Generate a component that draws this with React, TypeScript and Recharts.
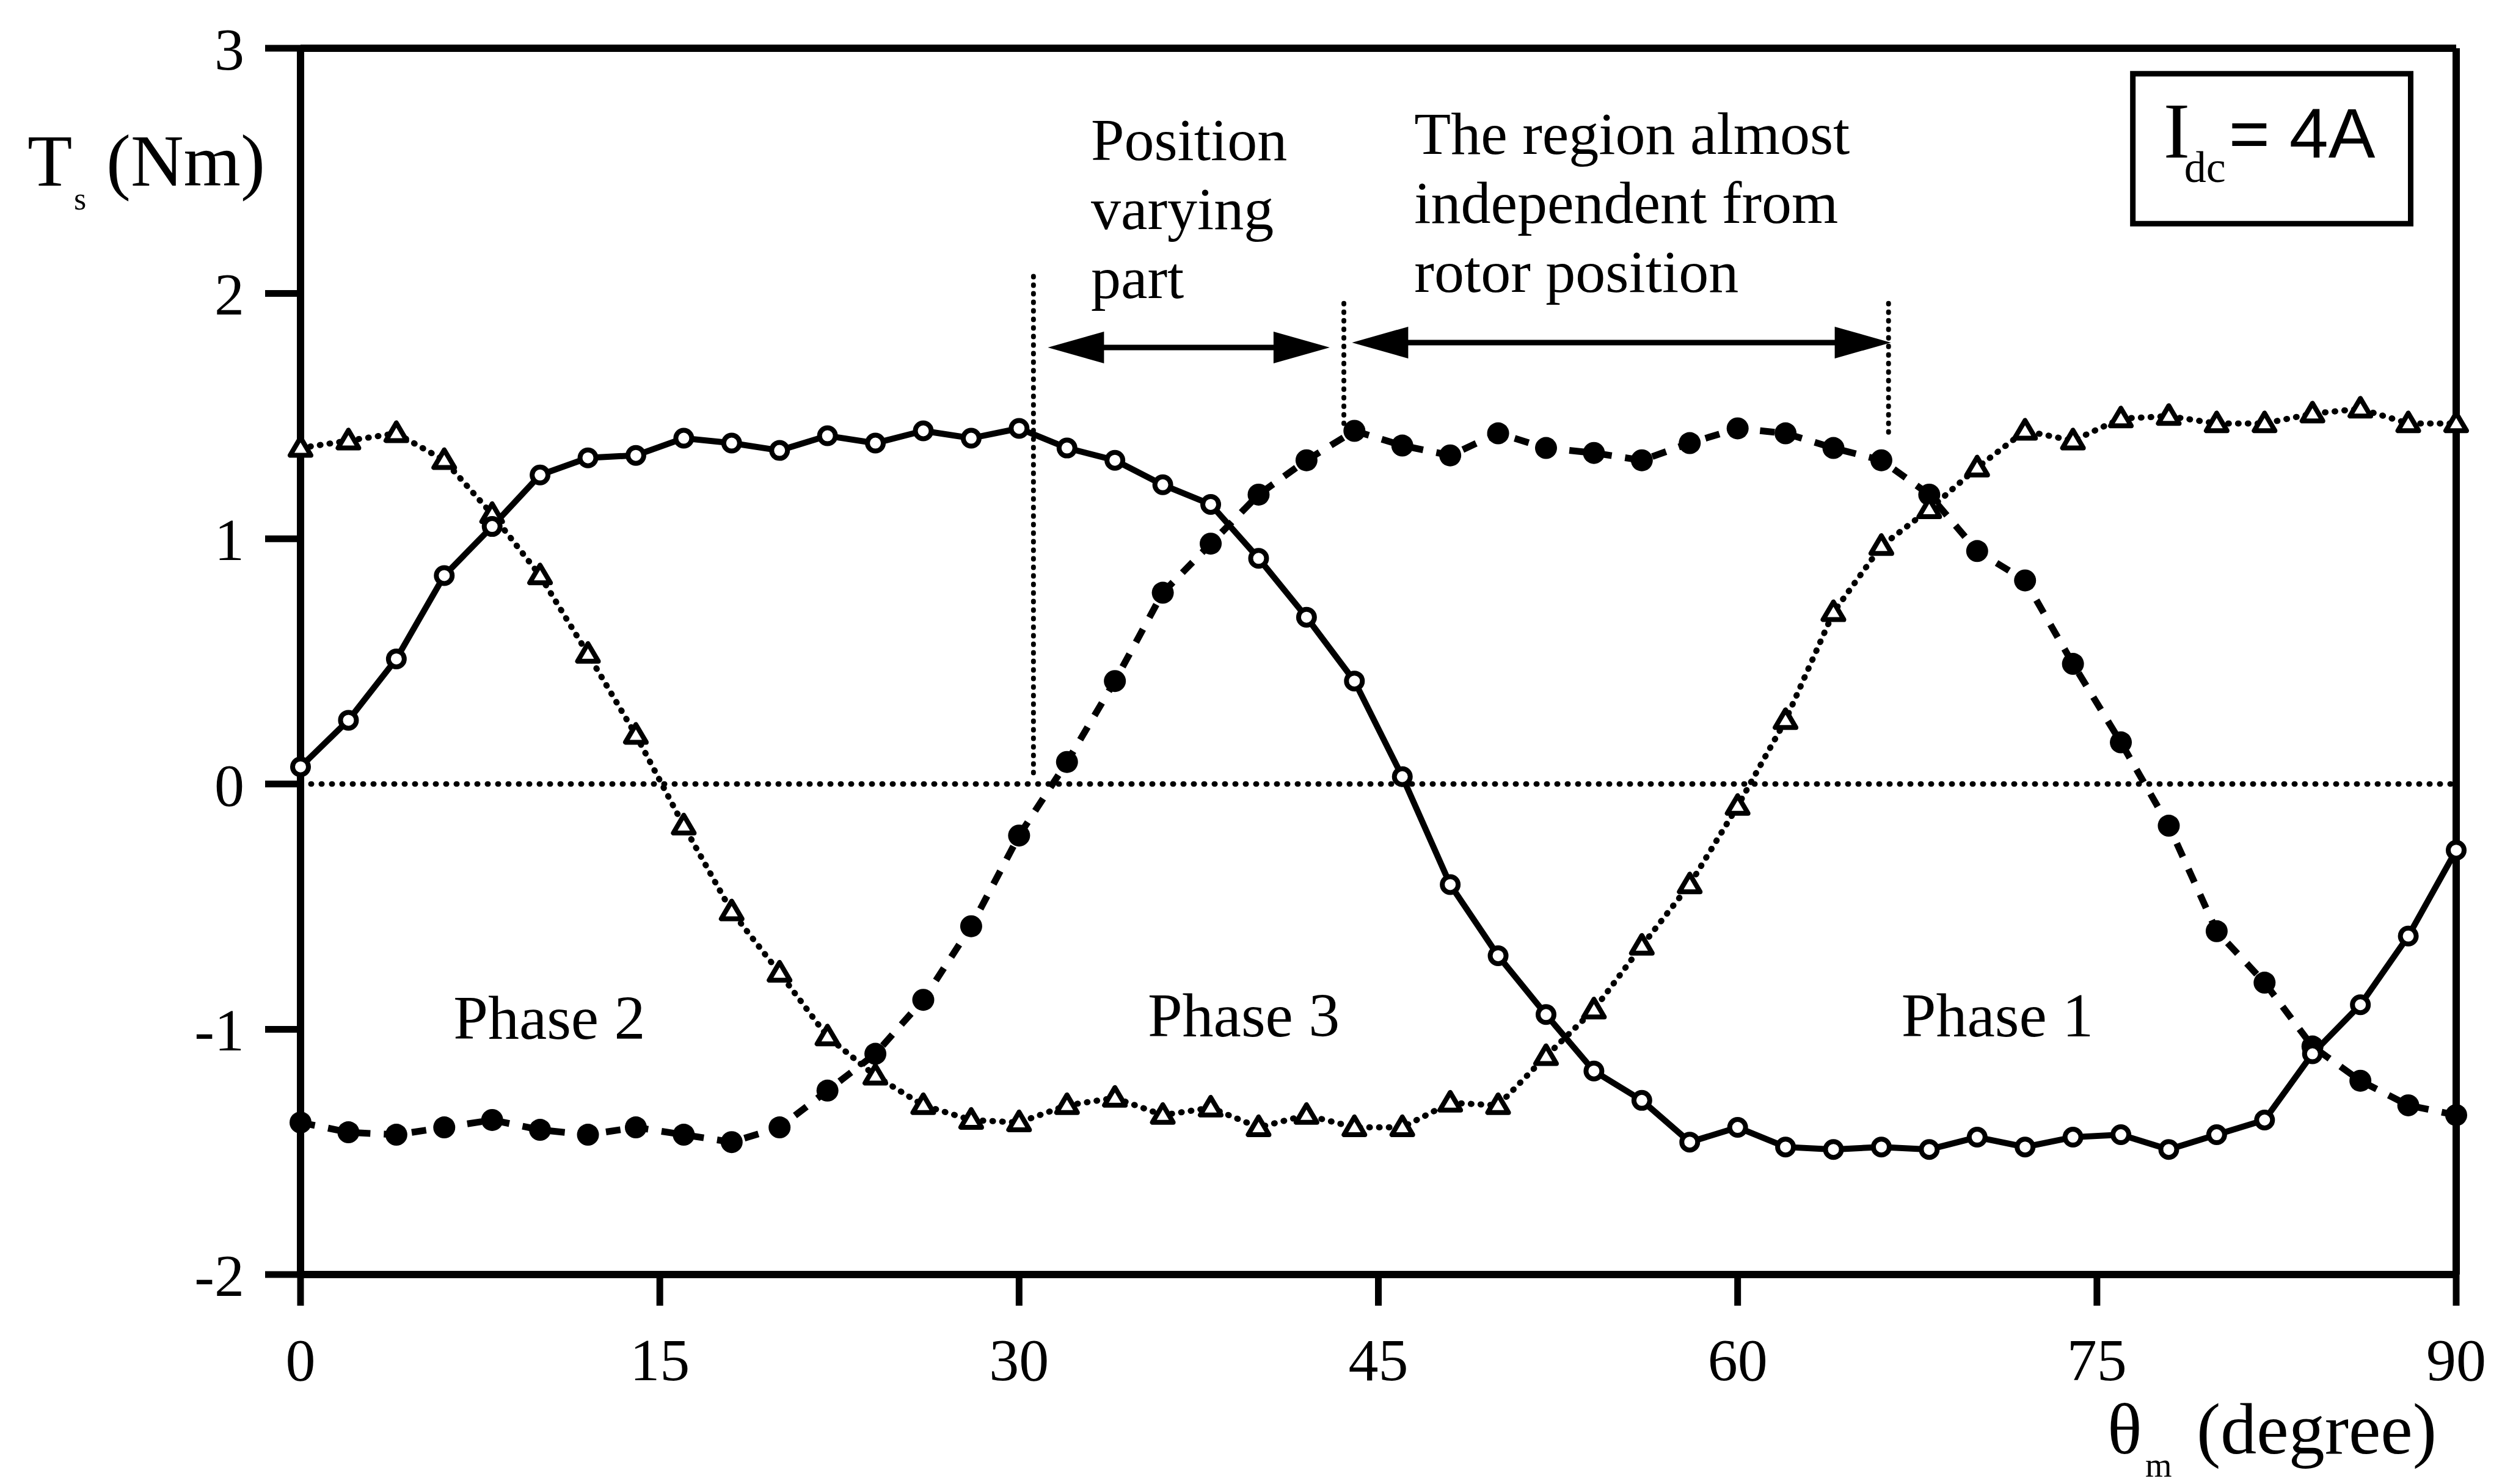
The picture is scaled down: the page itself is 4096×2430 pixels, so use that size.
import React from 'react';
import { ComposedChart, Line, XAxis, YAxis, ReferenceLine, ReferenceArea, ReferenceDot } from 'recharts';

// rotor angle (degree)
const theta = [
  0, 2, 4, 6, 8, 10, 12, 14, 16, 18, 20, 22, 24, 26, 28, 30, 32, 34, 36, 38, 40, 42, 44,
  46, 48, 50, 52, 54, 56, 58, 60, 62, 64, 66, 68, 70, 72, 74, 76, 78, 80, 82, 84, 86, 88, 90,
];

// open circles, solid line
const phase1Torque = [
  0.07, 0.26, 0.51, 0.85, 1.05, 1.26, 1.33, 1.34, 1.41, 1.39, 1.36, 1.42, 1.39, 1.44, 1.41, 1.45,
  1.37, 1.32, 1.22, 1.14, 0.92, 0.68, 0.42, 0.03, -0.41, -0.7, -0.94, -1.17, -1.29, -1.46, -1.4,
  -1.48, -1.49, -1.48, -1.49, -1.44, -1.48, -1.44, -1.43, -1.49, -1.43, -1.37, -1.1, -0.9, -0.62, -0.27,
];

// filled circles, dashed line
const phase2Torque = [
  -1.38, -1.42, -1.43, -1.4, -1.37, -1.41, -1.43, -1.4, -1.43, -1.46, -1.4, -1.25, -1.1, -0.88, -0.58,
  -0.21, 0.09, 0.42, 0.78, 0.98, 1.18, 1.32, 1.44, 1.38, 1.34, 1.43, 1.37, 1.35, 1.32, 1.39, 1.45,
  1.43, 1.37, 1.32, 1.18, 0.95, 0.83, 0.49, 0.17, -0.17, -0.6, -0.81, -1.07, -1.21, -1.31, -1.35,
];

// triangles, dotted line
const phase3Torque = [
  1.37, 1.4, 1.43, 1.32, 1.1, 0.85, 0.53, 0.2, -0.17, -0.52, -0.77, -1.03, -1.19, -1.31, -1.37,
  -1.38, -1.31, -1.28, -1.35, -1.32, -1.4, -1.35, -1.4, -1.4, -1.3, -1.31, -1.11, -0.92, -0.66, -0.41,
  -0.09, 0.26, 0.7, 0.97, 1.12, 1.29, 1.44, 1.4, 1.49, 1.5, 1.47, 1.47, 1.51, 1.53, 1.47, 1.47,
];

const xTicks = [0, 15, 30, 45, 60, 75, 90];
const yTicks = [-2, -1, 0, 1, 2, 3];

const rows = theta.map((t, i) => ({
  theta: t,
  phase1: phase1Torque[i],
  phase2: phase2Torque[i],
  phase3: phase3Torque[i],
}));

const SERIF = '"Liberation Serif", "Times New Roman", serif';
const SANS = '"Liberation Sans", Arial, sans-serif';

const OpenCircle = (props: any) => {
  const { cx, cy, index } = props;
  if (cx == null || cy == null) return null;
  return <circle key={`o-${index}`} cx={cx} cy={cy} r={13} fill="#fff" stroke="#000" strokeWidth={8} />;
};

const FilledCircle = (props: any) => {
  const { cx, cy, index } = props;
  if (cx == null || cy == null) return null;
  return <circle key={`f-${index}`} cx={cx} cy={cy} r={18} fill="#000" />;
};

const Triangle = (props: any) => {
  const { cx, cy, index } = props;
  if (cx == null || cy == null) return null;
  const s = 17;
  return (
    <polygon
      key={`t-${index}`}
      points={`${cx},${cy - s} ${cx - s},${cy + s * 0.7} ${cx + s},${cy + s * 0.7}`}
      fill="#fff"
      stroke="#000"
      strokeWidth={8}
      strokeLinejoin="round"
    />
  );
};

// double headed arrow drawn along a reference segment
const DoubleArrow = (props: any) => {
  const { x1, y1, x2, y2 } = props;
  const len = 92;
  const half = 26;
  return (
    <g>
      <line x1={x1 + 40} y1={y1} x2={x2 - 40} y2={y2} stroke="#000" strokeWidth={9} />
      <polygon points={`${x1},${y1} ${x1 + len},${y1 - half} ${x1 + len},${y1 + half}`} fill="#000" />
      <polygon points={`${x2},${y2} ${x2 - len},${y2 - half} ${x2 - len},${y2 + half}`} fill="#000" />
    </g>
  );
};

const textBlock = (lines: string[], anchor: 'start' | 'middle', size: number, gap: number) => (props: any) => {
  const { cx, cy } = props;
  return (
    <text fontFamily={SERIF} fontSize={size} fill="#000" textAnchor={anchor}>
      {lines.map((l, i) => (
        <tspan key={l} x={cx} y={cy + i * gap}>
          {l}
        </tspan>
      ))}
    </text>
  );
};

const CurrentLabel = (props: any) => {
  const { cx, cy } = props;
  return (
    <g fill="#000">
      <text x={cx + 50} y={cy + 137} fontFamily={SERIF} fontSize={130}>I</text>
      <text x={cx + 84} y={cy + 177} fontFamily={SERIF} fontSize={72}>dc</text>
      <text x={cx + 157} y={cy + 137} fontFamily={SANS} fontSize={115}>= 4A</text>
    </g>
  );
};

const YTitle = () => (
  <text fontFamily={SERIF} fontSize={120} fill="#000">
    <tspan x={45} y={304}>T</tspan>
    <tspan x={121} y={343} fontSize={52}>s</tspan>
    <tspan x={174} y={304}>(Nm)</tspan>
  </text>
);

const XTitle = () => (
  <text fontFamily={SERIF} fontSize={118} fill="#000">
    <tspan x={3450} y={2380}>θ</tspan>
    <tspan x={3512} y={2418} fontSize={56}>m</tspan>
    <tspan x={3596} y={2380}>(degree)</tspan>
  </text>
);

const tickStyle = { fontFamily: SERIF, fontSize: 98, fill: '#000' };

export default function App() {
  return (
    <div style={{ position: 'absolute', left: 0, top: 0, width: 4096, height: 2430, background: '#fff' }}>
      <ComposedChart width={4096} height={2430} data={rows} margin={{ top: 79, right: 75, bottom: 223, left: 0 }}>
        <XAxis
          dataKey="theta"
          type="number"
          domain={[0, 90]}
          ticks={xTicks}
          height={120}
          tick={tickStyle}
          tickSize={51}
          tickMargin={52}
          axisLine={{ stroke: '#000', strokeWidth: 12 }}
          tickLine={{ stroke: '#000', strokeWidth: 11 }}
          label={{ content: XTitle }}
        />
        <YAxis
          type="number"
          domain={[-2, 3]}
          ticks={yTicks}
          width={492}
          tick={tickStyle}
          tickSize={58}
          tickMargin={34}
          axisLine={{ stroke: '#000', strokeWidth: 12 }}
          tickLine={{ stroke: '#000', strokeWidth: 11 }}
          label={{ content: YTitle }}
        />

        {/* frame top / right */}
        <ReferenceLine y={3} stroke="#000" strokeWidth={12} />
        <ReferenceLine x={90} stroke="#000" strokeWidth={12} />

        {/* zero line */}
        <ReferenceLine y={0} stroke="#000" strokeWidth={9} strokeDasharray="1 16" strokeLinecap="round" />

        {/* region markers */}
        <ReferenceLine segment={[{ x: 30.6, y: 2.07 }, { x: 30.6, y: 0.03 }]} stroke="#000" strokeWidth={8} strokeDasharray="1 13" strokeLinecap="round" />
        <ReferenceLine segment={[{ x: 43.56, y: 1.96 }, { x: 43.56, y: 1.47 }]} stroke="#000" strokeWidth={8} strokeDasharray="1 13" strokeLinecap="round" />
        <ReferenceLine segment={[{ x: 66.3, y: 1.96 }, { x: 66.3, y: 1.42 }]} stroke="#000" strokeWidth={8} strokeDasharray="1 13" strokeLinecap="round" />
        <ReferenceLine segment={[{ x: 31.2, y: 1.78 }, { x: 42.97, y: 1.78 }]} shape={DoubleArrow} />
        <ReferenceLine segment={[{ x: 43.9, y: 1.8 }, { x: 66.4, y: 1.8 }]} shape={DoubleArrow} />

        <Line
          dataKey="phase2"
          type="linear"
          stroke="#000"
          strokeWidth={11}
          strokeDasharray="24 22"
          dot={FilledCircle}
          activeDot={false}
          isAnimationActive={false}
        />
        <Line
          dataKey="phase3"
          type="linear"
          stroke="#000"
          strokeWidth={10}
          strokeDasharray="1 15"
          strokeLinecap="round"
          dot={Triangle}
          activeDot={false}
          isAnimationActive={false}
        />
        <Line
          dataKey="phase1"
          type="linear"
          stroke="#000"
          strokeWidth={10}
          dot={OpenCircle}
          activeDot={false}
          isAnimationActive={false}
        />

        <ReferenceArea x1={76.5} x2={88.1} y1={2.285} y2={2.896} fill="#fff" fillOpacity={1} stroke="#000" strokeWidth={9} />
        <ReferenceDot x={76.5} y={2.896} shape={CurrentLabel} />

        <ReferenceDot x={33.0} y={2.545} shape={textBlock(['Position', 'varying', 'part'], 'start', 98, 113)} />
        <ReferenceDot x={46.5} y={2.57} shape={textBlock(['The region almost', 'independent from', 'rotor position'], 'start', 98, 113)} />
        <ReferenceDot x={10.39} y={-1.04} shape={textBlock(['Phase 2'], 'middle', 102, 0)} />
        <ReferenceDot x={39.38} y={-1.028} shape={textBlock(['Phase 3'], 'middle', 102, 0)} />
        <ReferenceDot x={70.85} y={-1.028} shape={textBlock(['Phase 1'], 'middle', 102, 0)} />
      </ComposedChart>
    </div>
  );
}
